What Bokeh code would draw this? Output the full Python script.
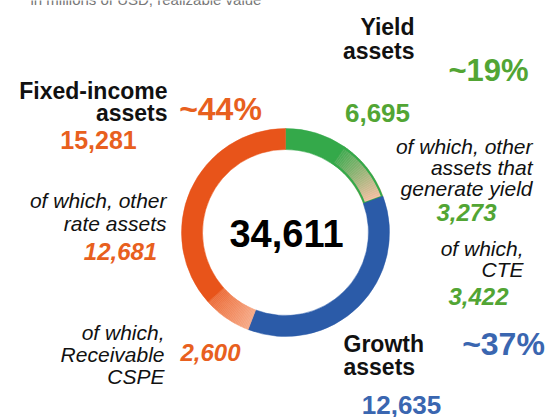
import numpy as np
from bokeh.plotting import figure
from bokeh.models import Range1d
from bokeh.embed import file_html
from bokeh.resources import INLINE
from bokeh.core.properties import value

# ---------------- data ----------------
total_value = 34611
segment_names = ["Other yield assets", "CTE", "Growth assets", "Receivable CSPE", "Other rate assets"]
segment_values = [3273, 3422, 12635, 2600, 12681]
group_names = ["Fixed-income assets", "Yield assets", "Growth assets"]
group_values = [15281, 6695, 12635]
group_shares = ["~44%", "~19%", "~37%"]
subtitle = "in millions of USD, realizable value"

# ---------------- style ----------------
FONT = value("Liberation Sans")
ORANGE = "#E8541A"
GREEN = "#34A94A"
BLUE = "#2B5BA8"
T_ORANGE = "#E8601E"
T_GREEN = "#52A534"
T_BLUE = "#3A66B0"
seg_colors = [
    (GREEN, GREEN),
    ("#3FAA50", "#F3BFA2"),   # gradient
    (BLUE, BLUE),
    ("#F6AA88", "#EC6C38"),   # gradient
    (ORANGE, ORANGE),
]

W, H = 547, 417
p = figure(width=W, height=H, x_range=Range1d(0, W), y_range=Range1d(0, H),
           output_backend="svg", toolbar_location=None, min_border=0)
p.axis.visible = False
p.grid.visible = False
p.outline_line_color = None
p.background_fill_color = "white"


def Y(sy):
    return H - sy


def hex2rgb(h):
    h = h.lstrip("#")
    return np.array([int(h[i:i + 2], 16) for i in (0, 2, 4)], dtype=float)


def rgb2hex(c):
    return "#%02x%02x%02x" % tuple(int(round(v)) for v in c)


# ---------------- donut ----------------
CX, CY = 285, 232
R_OUT, R_IN = 104, 83
total = float(sum(segment_values))
cum = np.concatenate([[0], np.cumsum(segment_values)])
starts = np.pi / 2 - 2 * np.pi * cum[:-1] / total
ends = np.pi / 2 - 2 * np.pi * cum[1:] / total

for i, (a0, a1) in enumerate(zip(starts, ends)):
    c0, c1 = seg_colors[i]
    if c0 == c1:
        p.annular_wedge(x=CX, y=Y(CY), inner_radius=R_IN, outer_radius=R_OUT,
                        start_angle=a0, end_angle=a1, direction="clock",
                        fill_color=c0, line_color=c0, line_width=0.5)
    else:
        n = 30
        edges = np.linspace(a0, a1, n + 1)
        ca, cb = hex2rgb(c0), hex2rgb(c1)
        cols = [rgb2hex(ca + (cb - ca) * (k + 0.5) / n) for k in range(n)]
        p.annular_wedge(x=[CX] * n, y=[Y(CY)] * n, inner_radius=R_IN, outer_radius=R_OUT,
                        start_angle=list(edges[:-1]), end_angle=list(edges[1:]),
                        direction="clock", fill_color=cols, line_color=cols, line_width=0.5)
        if i == 1:
            p.annular_wedge(x=CX, y=Y(CY), inner_radius=R_IN + 1, outer_radius=R_OUT - 1,
                            start_angle=a0, end_angle=a1, direction="clock",
                            fill_alpha=0, line_color=GREEN, line_width=2)


def txt(x, y, s, size, color="#111111", style="bold", align="left"):
    p.text(x=[x], y=[Y(y)], text=[s], text_font=FONT, text_font_size=f"{size}px",
           text_font_style=style, text_color=color, text_align=align,
           text_baseline="middle")


# subtitle (cut off at the top edge, as in the reference)
p.text(x=[30], y=[Y(-1)], text=[subtitle], text_font=FONT, text_font_size="15px",
       text_font_style="normal", text_color="#777777", text_align="left",
       text_baseline="alphabetic")

# centre total
txt(CX + 1, 233, f"{total_value:,}", 38, "#000000", "bold", "center")

# Fixed-income
txt(167, 90, "Fixed-income", 23, "#111111", "bold", "right")
txt(167, 112, "assets", 23, "#111111", "bold", "right")
txt(98, 139, f"{group_values[0]:,}", 25, T_ORANGE, "bold", "center")
txt(220, 108, group_shares[0], 32, T_ORANGE, "bold", "center")
txt(166, 200, "of which, other", 21, "#111111", "italic", "right")
txt(166, 223, "rate assets", 21, "#111111", "italic", "right")
txt(120, 251, f"{segment_values[4]:,}", 24, T_ORANGE, "bold italic", "center")
txt(164, 332, "of which,", 21, "#111111", "italic", "right")
txt(164, 354, "Receivable", 21, "#111111", "italic", "right")
txt(164, 376, "CSPE", 21, "#111111", "italic", "right")
txt(210, 352, f"{segment_values[3]:,}", 24, T_ORANGE, "bold italic", "center")

# Yield
txt(414, 26, "Yield", 23, "#111111", "bold", "right")
txt(414, 50, "assets", 23, "#111111", "bold", "right")
txt(377, 112, f"{group_values[1]:,}", 26, T_GREEN, "bold", "center")
txt(488, 70, group_shares[1], 31, T_GREEN, "bold", "center")
txt(532, 146, "of which, other", 21, "#111111", "italic", "right")
txt(532, 167, "assets that", 21, "#111111", "italic", "right")
txt(532, 188, "generate yield", 21, "#111111", "italic", "right")
txt(466, 212, f"{segment_values[0]:,}", 24, T_GREEN, "bold italic", "center")
txt(523, 248, "of which,", 21, "#111111", "italic", "right")
txt(523, 269, "CTE", 21, "#111111", "italic", "right")
txt(478, 296, f"{segment_values[1]:,}", 24, T_GREEN, "bold italic", "center")

# Growth
txt(343, 343, "Growth", 23, "#111111", "bold", "left")
txt(343, 366, "assets", 23, "#111111", "bold", "left")
txt(503, 343, group_shares[2], 32, T_BLUE, "bold", "center")
txt(401, 404, f"{group_values[2]:,}", 26, T_BLUE, "bold", "center")

open("out.html", "w").write(file_html(p, INLINE))
